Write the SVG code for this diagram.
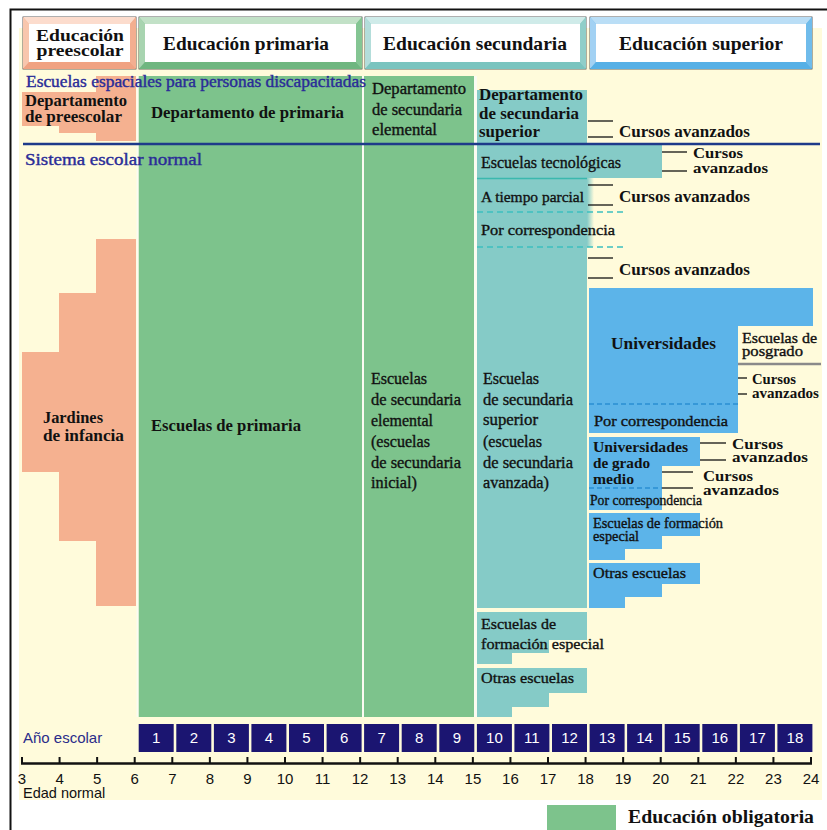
<svg xmlns="http://www.w3.org/2000/svg" width="827" height="830" viewBox="0 0 827 830">
<defs>
<style>
.sf{font-family:"Liberation Serif","Times New Roman",serif;fill:#111}
.md{stroke:#111;stroke-width:0.35}
.b{font-weight:bold}
.nv{fill:#2a2c98;stroke:#2a2c98;stroke-width:0.4}
.ss{font-family:"Liberation Sans",Arial,sans-serif}
.yr{fill:#1b1571}
.yt{font-family:"Liberation Sans",Arial,sans-serif;font-size:15px;fill:#fff;text-anchor:middle}
.ax{font-family:"Liberation Sans",Arial,sans-serif;font-size:15px;fill:#111;text-anchor:middle}
.salmon{fill:#f5b190}
.green{fill:#7dc38c}
.teal{fill:#85cbc7}
.blue{fill:#5cb4e9}
.cl{stroke:#111;stroke-width:1.3;fill:none}
.ol{stroke:#3a3a3a;stroke-width:0.8}
</style>
<linearGradient id="fade" x1="0" y1="0" x2="1" y2="0">
<stop offset="0" stop-color="#85cbc7"/>
<stop offset="1" stop-color="#85cbc7" stop-opacity="0"/>
</linearGradient>
</defs>
<rect x="0" y="0" width="827" height="830" fill="#ffffff"/>
<polyline points="10.5,830 10.5,9.5 827,9.5" fill="none" stroke="#111" stroke-width="2"/>
<rect x="19" y="28" width="803" height="772" fill="#fffbdb"/>

<!-- Header boxes -->
<g id="hdr-preescolar">
<rect x="23" y="17" width="113" height="52" fill="#f4b596" class="ol"/>
<polygon points="23,17 136,17 130,24 29,24" fill="#fcdccd"/>
<polygon points="23,17 29,24 29,62 23,69" fill="#f8c6ad"/>
<polygon points="23,69 29,62 130,62 136,69" fill="#f0a282"/>
<polygon points="136,17 136,69 130,62 130,24" fill="#f3ae90"/>
<rect x="29" y="24" width="101" height="38" fill="#fff"/>
<text class="sf b" x="80" y="41" font-size="17" text-anchor="middle" textLength="88" lengthAdjust="spacingAndGlyphs">Educación</text>
<text class="sf b" x="80" y="56" font-size="17" text-anchor="middle" textLength="87" lengthAdjust="spacingAndGlyphs">preescolar</text>
</g>
<g id="hdr-primaria">
<rect x="139" y="17" width="223" height="52" fill="#8cc99a" class="ol"/>
<polygon points="139,17 362,17 356,24 145,24" fill="#c2e1c7"/>
<polygon points="139,17 145,24 145,62 139,69" fill="#a8d4b0"/>
<polygon points="139,69 145,62 356,62 362,69" fill="#6fb680"/>
<polygon points="362,17 362,69 356,62 356,24" fill="#84c593"/>
<rect x="145" y="24" width="211" height="38" fill="#fff"/>
<text class="sf b" x="246" y="50" font-size="19.5" text-anchor="middle" textLength="166" lengthAdjust="spacingAndGlyphs">Educación primaria</text>
</g>
<g id="hdr-secundaria">
<rect x="365" y="17" width="221" height="52" fill="#98d2ce" class="ol"/>
<polygon points="365,17 586,17 580,24 371,24" fill="#cfebe9"/>
<polygon points="365,17 371,24 371,62 365,69" fill="#b3ddda"/>
<polygon points="365,69 371,62 580,62 586,69" fill="#7ac4bf"/>
<polygon points="586,17 586,69 580,62 580,24" fill="#90cec9"/>
<rect x="371" y="24" width="209" height="38" fill="#fff"/>
<text class="sf b" x="475" y="50" font-size="19.5" text-anchor="middle" textLength="184" lengthAdjust="spacingAndGlyphs">Educación secundaria</text>
</g>
<g id="hdr-superior">
<rect x="590" y="17" width="222" height="52" fill="#78c0ec" class="ol"/>
<polygon points="590,17 812,17 806,24 596,24" fill="#badef6"/>
<polygon points="590,17 596,24 596,62 590,69" fill="#a2d1f3"/>
<polygon points="590,69 596,62 806,62 812,69" fill="#56b0e6"/>
<polygon points="812,17 812,69 806,62 806,24" fill="#70bceb"/>
<rect x="596" y="24" width="210" height="38" fill="#fff"/>
<text class="sf b" x="701" y="50" font-size="19.5" text-anchor="middle" textLength="164" lengthAdjust="spacingAndGlyphs">Educación superior</text>
</g>

<!-- Preescolar -->
<g id="depto-preescolar">
<polygon class="salmon" points="22,92 96,92 96,76 136,76 136,141 96,141 96,133 59,133 59,126 22,126"/>
<text class="sf b" x="25" y="106" font-size="16" textLength="102" lengthAdjust="spacingAndGlyphs">Departamento</text>
<text class="sf b" x="25" y="122" font-size="16" textLength="97" lengthAdjust="spacingAndGlyphs">de preescolar</text>
</g>
<g id="jardines">
<polygon class="salmon" points="96,239 136,239 136,606 96,606 96,541 59,541 59,472 22,472 22,352 59,352 59,293 96,293"/>
<text class="sf b" x="43" y="423" font-size="17" textLength="60" lengthAdjust="spacingAndGlyphs">Jardines</text>
<text class="sf b" x="43" y="441" font-size="17" textLength="81" lengthAdjust="spacingAndGlyphs">de infancia</text>
</g>

<!-- Primaria -->
<g id="primaria">
<rect class="green" x="138.5" y="76" width="223.5" height="641"/>
<text class="sf b" x="151" y="118" font-size="16.5" textLength="193" lengthAdjust="spacingAndGlyphs">Departamento de primaria</text>
<text class="sf b" x="151" y="431" font-size="16.5" textLength="150" lengthAdjust="spacingAndGlyphs">Escuelas de primaria</text>
</g>

<!-- Secundaria elemental -->
<g id="secundaria-elemental">
<rect class="green" x="364" y="76" width="110" height="641"/>
<text class="sf md" x="372" y="94" font-size="16" textLength="94" lengthAdjust="spacingAndGlyphs">Departamento</text>
<text class="sf md" x="372" y="115" font-size="16" textLength="90" lengthAdjust="spacingAndGlyphs">de secundaria</text>
<text class="sf md" x="372" y="135" font-size="16" textLength="65" lengthAdjust="spacingAndGlyphs">elemental</text>
<text class="sf md" x="371" y="384" font-size="16" textLength="56" lengthAdjust="spacingAndGlyphs">Escuelas</text>
<text class="sf md" x="371" y="405" font-size="16" textLength="90" lengthAdjust="spacingAndGlyphs">de secundaria</text>
<text class="sf md" x="371" y="426" font-size="16" textLength="62" lengthAdjust="spacingAndGlyphs">elemental</text>
<text class="sf md" x="371" y="447" font-size="16" textLength="59" lengthAdjust="spacingAndGlyphs">(escuelas</text>
<text class="sf md" x="371" y="468" font-size="16" textLength="90" lengthAdjust="spacingAndGlyphs">de secundaria</text>
<text class="sf md" x="371" y="488" font-size="16" textLength="46" lengthAdjust="spacingAndGlyphs">inicial)</text>
</g>

<!-- Secundaria superior -->
<g id="depto-secundaria-superior">
<rect class="teal" x="477" y="90" width="110" height="54"/>
<text class="sf b" x="479" y="100" font-size="16" textLength="104" lengthAdjust="spacingAndGlyphs">Departamento</text>
<text class="sf b" x="479" y="119" font-size="16" textLength="100" lengthAdjust="spacingAndGlyphs">de secundaria</text>
<text class="sf b" x="479" y="137" font-size="16" textLength="61" lengthAdjust="spacingAndGlyphs">superior</text>
</g>
<g id="tecnologicas">
<rect class="teal" x="477" y="144" width="185" height="34"/>
<text class="sf md" x="481" y="168" font-size="16" textLength="140" lengthAdjust="spacingAndGlyphs">Escuelas tecnológicas</text>
</g>
<g id="secundaria-superior">
<rect class="teal" x="477" y="178" width="110" height="430"/>
<rect x="587" y="178" width="7" height="69" fill="url(#fade)"/>
<line x1="477" y1="178.5" x2="587" y2="178.5" stroke="#3bb8ae" stroke-width="1.5"/>
<line x1="477" y1="212" x2="625" y2="212" stroke="#3cc0c0" stroke-width="1.4" stroke-dasharray="6,4"/>
<line x1="477" y1="247" x2="625" y2="247" stroke="#3cc0c0" stroke-width="1.4" stroke-dasharray="6,4"/>
<text class="sf md" x="481" y="202" font-size="15.5" textLength="103" lengthAdjust="spacingAndGlyphs">A tiempo parcial</text>
<text class="sf md" x="481" y="235" font-size="15.5" textLength="134" lengthAdjust="spacingAndGlyphs">Por correspondencia</text>
<text class="sf md" x="483" y="384" font-size="16" textLength="56" lengthAdjust="spacingAndGlyphs">Escuelas</text>
<text class="sf md" x="483" y="405" font-size="16" textLength="90" lengthAdjust="spacingAndGlyphs">de secundaria</text>
<text class="sf md" x="483" y="425" font-size="16" textLength="55" lengthAdjust="spacingAndGlyphs">superior</text>
<text class="sf md" x="483" y="447" font-size="16" textLength="59" lengthAdjust="spacingAndGlyphs">(escuelas</text>
<text class="sf md" x="483" y="468" font-size="16" textLength="90" lengthAdjust="spacingAndGlyphs">de secundaria</text>
<text class="sf md" x="483" y="488" font-size="16" textLength="66" lengthAdjust="spacingAndGlyphs">avanzada)</text>
</g>
<g id="formacion-especial-sec">
<polygon class="teal" points="477,612 587,612 587,640 549,640 549,653 512,653 512,664 477,664"/>
<text class="sf md" x="481" y="629" font-size="15.5" textLength="75" lengthAdjust="spacingAndGlyphs">Escuelas de</text>
<text class="sf md" x="481" y="649" font-size="15.5" textLength="123" lengthAdjust="spacingAndGlyphs">formación especial</text>
</g>
<g id="otras-sec">
<polygon class="teal" points="477,668 587,668 587,693 549,693 549,707 512,707 512,717 477,717"/>
<text class="sf md" x="481" y="683" font-size="15.5" textLength="93" lengthAdjust="spacingAndGlyphs">Otras escuelas</text>
</g>

<!-- Superior -->
<g id="universidades">
<polygon class="blue" points="589,288 813,288 813,326 738,326 738,433 589,433"/>
<line x1="589" y1="404" x2="738" y2="404" stroke="#2a8fd2" stroke-width="1.4" stroke-dasharray="5,3"/>
<text class="sf b" x="611" y="349" font-size="17" textLength="105" lengthAdjust="spacingAndGlyphs">Universidades</text>
<text class="sf md" x="594" y="426" font-size="15.5" textLength="134" lengthAdjust="spacingAndGlyphs">Por correspondencia</text>
</g>
<g id="posgrado">
<line x1="738" y1="364" x2="821" y2="364" stroke="#8a8a8a" stroke-width="2.5"/>
<text class="sf md" x="742" y="343" font-size="14.5" textLength="75" lengthAdjust="spacingAndGlyphs">Escuelas de</text>
<text class="sf md" x="742" y="356" font-size="14.5" textLength="61" lengthAdjust="spacingAndGlyphs">posgrado</text>
</g>
<g id="grado-medio">
<polygon class="blue" points="589,437 700,437 700,466 662,466 662,510 589,510"/>
<line x1="589" y1="488" x2="662" y2="488" stroke="#2a8fd2" stroke-width="1.4" stroke-dasharray="5,3"/>
<text class="sf b" x="593" y="452" font-size="15.5" textLength="95" lengthAdjust="spacingAndGlyphs">Universidades</text>
<text class="sf b" x="593" y="468" font-size="15.5" textLength="57" lengthAdjust="spacingAndGlyphs">de grado</text>
<text class="sf b" x="593" y="484" font-size="15.5" textLength="41" lengthAdjust="spacingAndGlyphs">medio</text>
<text class="sf md" x="590" y="505" font-size="14" textLength="112" lengthAdjust="spacingAndGlyphs">Por correspondencia</text>
</g>
<g id="formacion-especial-sup">
<polygon class="blue" points="589,513 700,513 700,536 662,536 662,549 625,549 625,560 589,560"/>
<text class="sf md" x="593" y="528" font-size="14" textLength="130" lengthAdjust="spacingAndGlyphs">Escuelas de formación</text>
<text class="sf md" x="593" y="541" font-size="14" textLength="46" lengthAdjust="spacingAndGlyphs">especial</text>
</g>
<g id="otras-sup">
<polygon class="blue" points="589,563 700,563 700,584 662,584 662,597 625,597 625,608 589,608"/>
<text class="sf md" x="593" y="578" font-size="15.5" textLength="93" lengthAdjust="spacingAndGlyphs">Otras escuelas</text>
</g>

<!-- separators -->
<g id="separators">
<rect x="136.5" y="76" width="2" height="641" fill="#fbfbf2"/>
<rect x="362" y="76" width="2" height="641" fill="#fbfbf2"/>
<rect x="474" y="76" width="3" height="641" fill="#fbfbf2"/>
</g>

<!-- system lines and labels -->
<g id="sistemas">
<text class="sf nv" x="26" y="87" font-size="17" textLength="340" lengthAdjust="spacingAndGlyphs">Escuelas espaciales para personas discapacitadas</text>
<line x1="23" y1="144" x2="820" y2="144" stroke="#1e3a8a" stroke-width="2.5"/>
<text class="sf nv" x="25" y="165" font-size="17" textLength="177" lengthAdjust="spacingAndGlyphs">Sistema escolar normal</text>
</g>

<!-- Cursos avanzados -->
<g id="connectors">
<line class="cl" x1="588" y1="121" x2="613" y2="121"/>
<line class="cl" x1="588" y1="137" x2="613" y2="137"/>
<line class="cl" x1="662" y1="152" x2="687" y2="152"/>
<line class="cl" x1="662" y1="171" x2="687" y2="171"/>
<line class="cl" x1="588" y1="185" x2="613" y2="185"/>
<line class="cl" x1="588" y1="205" x2="613" y2="205"/>
<line class="cl" x1="588" y1="258" x2="613" y2="258"/>
<line class="cl" x1="588" y1="278" x2="613" y2="278"/>
<line class="cl" x1="738" y1="378" x2="747" y2="378"/>
<line class="cl" x1="738" y1="394" x2="747" y2="394"/>
<line class="cl" x1="700" y1="443" x2="726" y2="443"/>
<line class="cl" x1="700" y1="460" x2="726" y2="460"/>
<line class="cl" x1="662" y1="472" x2="693" y2="472"/>
<line class="cl" x1="662" y1="488" x2="693" y2="488"/>
</g>
<g id="cursos-labels">
<text class="sf b" x="619" y="137" font-size="16" textLength="131" lengthAdjust="spacingAndGlyphs">Cursos avanzados</text>
<text class="sf b" x="693" y="158" font-size="15.5" textLength="50" lengthAdjust="spacingAndGlyphs">Cursos</text>
<text class="sf b" x="693" y="173" font-size="15.5" textLength="75" lengthAdjust="spacingAndGlyphs">avanzados</text>
<text class="sf b" x="619" y="202" font-size="16" textLength="131" lengthAdjust="spacingAndGlyphs">Cursos avanzados</text>
<text class="sf b" x="619" y="275" font-size="16" textLength="131" lengthAdjust="spacingAndGlyphs">Cursos avanzados</text>
<text class="sf b" x="752" y="384" font-size="14.5" textLength="44" lengthAdjust="spacingAndGlyphs">Cursos</text>
<text class="sf b" x="752" y="398" font-size="14.5" textLength="67" lengthAdjust="spacingAndGlyphs">avanzados</text>
<text class="sf b" x="732" y="449" font-size="15" textLength="51" lengthAdjust="spacingAndGlyphs">Cursos</text>
<text class="sf b" x="732" y="462" font-size="15" textLength="76" lengthAdjust="spacingAndGlyphs">avanzados</text>
<text class="sf b" x="703" y="481" font-size="15" textLength="50" lengthAdjust="spacingAndGlyphs">Cursos</text>
<text class="sf b" x="703" y="495" font-size="15" textLength="76" lengthAdjust="spacingAndGlyphs">avanzados</text>
</g>

<!-- Year row -->
<g id="anio-escolar">
<text class="ss" x="23" y="743" font-size="15" fill="#2a2c8a">Año escolar</text>
<rect class="yr" x="138.7" y="724" width="35" height="28"/><text class="yt" x="156.2" y="743">1</text>
<rect class="yr" x="176.3" y="724" width="35" height="28"/><text class="yt" x="193.8" y="743">2</text>
<rect class="yr" x="213.9" y="724" width="35" height="28"/><text class="yt" x="231.4" y="743">3</text>
<rect class="yr" x="251.4" y="724" width="35" height="28"/><text class="yt" x="268.9" y="743">4</text>
<rect class="yr" x="289.0" y="724" width="35" height="28"/><text class="yt" x="306.5" y="743">5</text>
<rect class="yr" x="326.6" y="724" width="35" height="28"/><text class="yt" x="344.1" y="743">6</text>
<rect class="yr" x="364.1" y="724" width="35" height="28"/><text class="yt" x="381.6" y="743">7</text>
<rect class="yr" x="401.7" y="724" width="35" height="28"/><text class="yt" x="419.2" y="743">8</text>
<rect class="yr" x="439.3" y="724" width="35" height="28"/><text class="yt" x="456.8" y="743">9</text>
<rect class="yr" x="476.9" y="724" width="35" height="28"/><text class="yt" x="494.4" y="743">10</text>
<rect class="yr" x="514.4" y="724" width="35" height="28"/><text class="yt" x="531.9" y="743">11</text>
<rect class="yr" x="552.0" y="724" width="35" height="28"/><text class="yt" x="569.5" y="743">12</text>
<rect class="yr" x="589.6" y="724" width="35" height="28"/><text class="yt" x="607.1" y="743">13</text>
<rect class="yr" x="627.1" y="724" width="35" height="28"/><text class="yt" x="644.6" y="743">14</text>
<rect class="yr" x="664.7" y="724" width="35" height="28"/><text class="yt" x="682.2" y="743">15</text>
<rect class="yr" x="702.3" y="724" width="35" height="28"/><text class="yt" x="719.8" y="743">16</text>
<rect class="yr" x="739.9" y="724" width="35" height="28"/><text class="yt" x="757.4" y="743">17</text>
<rect class="yr" x="777.4" y="724" width="35" height="28"/><text class="yt" x="794.9" y="743">18</text>
</g>

<!-- Age axis -->
<g id="edad-normal">
<line x1="21" y1="763.5" x2="812" y2="763.5" stroke="#111" stroke-width="2.5"/>
<path d="M22,757V763 M59.57,757V763 M97.14,757V763 M134.71,757V763 M172.29,757V763 M209.86,757V763 M247.43,757V763 M285,757V763 M322.57,757V763 M360.14,757V763 M397.71,757V763 M435.29,757V763 M472.86,757V763 M510.43,757V763 M548,757V763 M585.57,757V763 M623.14,757V763 M660.71,757V763 M698.29,757V763 M735.86,757V763 M773.43,757V763 M811,757V763" stroke="#111" stroke-width="2"/>
<text class="ax" x="22" y="784">3</text>
<text class="ax" x="59.6" y="784">4</text>
<text class="ax" x="97.1" y="784">5</text>
<text class="ax" x="134.7" y="784">6</text>
<text class="ax" x="172.3" y="784">7</text>
<text class="ax" x="209.9" y="784">8</text>
<text class="ax" x="247.4" y="784">9</text>
<text class="ax" x="285" y="784">10</text>
<text class="ax" x="322.6" y="784">11</text>
<text class="ax" x="360.1" y="784">12</text>
<text class="ax" x="397.7" y="784">13</text>
<text class="ax" x="435.3" y="784">14</text>
<text class="ax" x="472.9" y="784">15</text>
<text class="ax" x="510.4" y="784">16</text>
<text class="ax" x="548" y="784">17</text>
<text class="ax" x="585.6" y="784">18</text>
<text class="ax" x="623.1" y="784">19</text>
<text class="ax" x="660.7" y="784">20</text>
<text class="ax" x="698.3" y="784">21</text>
<text class="ax" x="735.9" y="784">22</text>
<text class="ax" x="773.4" y="784">23</text>
<text class="ax" x="811" y="784">24</text>
<text class="ss" x="23" y="798" font-size="14.5" fill="#111">Edad normal</text>
</g>

<!-- Legend -->
<g id="leyenda">
<rect class="green" x="547" y="805" width="69" height="25"/>
<text class="sf b" x="628" y="823" font-size="18" textLength="186" lengthAdjust="spacingAndGlyphs">Educación obligatoria</text>
</g>
</svg>
